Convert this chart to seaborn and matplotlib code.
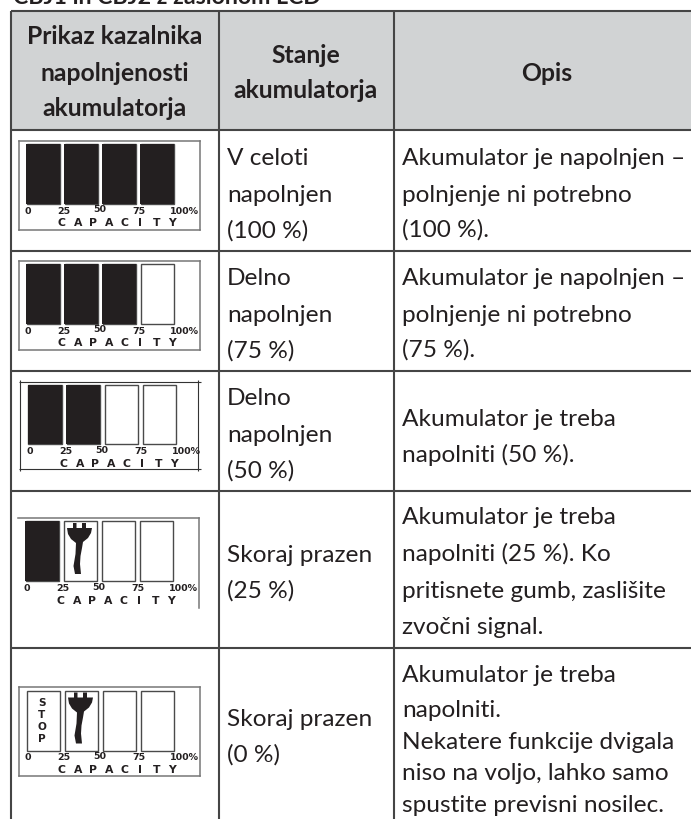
# Tabel kazalnika napolnjenosti akumulatorja

import pandas as pd
import matplotlib.pyplot as plt
import seaborn as sns

# data
header_labels = [["Prikaz kazalnika", "napolnjenosti", "akumulatorja"],
                 ["Stanje", "akumulatorja"],
                 ["Opis"]]
page_title = "CBJ1 in CBJ2 z zaslonom LCD"
status_labels = [["V celoti", "napolnjen", "(100 %)"],
                 ["Delno", "napolnjen", "(75 %)"],
                 ["Delno", "napolnjen", "(50 %)"],
                 ["Skoraj prazen", "(25 %)"],
                 ["Skoraj prazen", "(0 %)"]]
desc_labels = [["Akumulator je napolnjen –", "polnjenje ni potrebno", "(100 %)."],
               ["Akumulator je napolnjen –", "polnjenje ni potrebno", "(75 %)."],
               ["Akumulator je treba", "napolniti (50 %)."],
               ["Akumulator je treba", "napolniti (25 %). Ko", "pritisnete gumb, zaslišite", "zvočni signal."],
               ["Akumulator je treba", "napolniti.", "Nekatere funkcije dvigala", "niso na voljo, lahko samo", "spustite previsni nosilec."]]
segments = ["0-25", "25-50", "50-75", "75-100"]
fill_levels = [[1, 1, 1, 1],
               [1, 1, 1, 0],
               [1, 1, 0, 0],
               [1, 0, 0, 0],
               [0, 0, 0, 0]]
scale_labels = ["0", "25", "50", "75", "100%"]
capacity_letters = list("CAPACITY")
stop_letters = list("STOP")

DARK = "#231f20"
LINE = "#454545"
GREY = "#d1d3d4"
W, H = 691, 819

sns.set_theme(style="white")
plt.rcParams['font.family'] = ['Lato', 'DejaVu Sans']

fig = plt.figure(figsize=(W / 100, H / 100), dpi=100)
ax = fig.add_axes([0, 0, 1, 1])
ax.set_xlim(0, W)
ax.set_ylim(H, 0)
ax.axis("off")
ax.set_zorder(5)

# kerangka tabel
ax.fill_between([12, W], 11, 130, color=GREY, lw=0)
ax.hlines([11, 130, 251, 371, 491, 648], 11, W, color=LINE, lw=1.5)
ax.vlines([11.5, 219, 394], 11, H, color=LINE, lw=1.5)

ax.text(13, 3.5, page_title, fontsize=16.7, fontweight="bold", color=DARK, va="baseline")

# header
head_x = [115, 306, 547]
head_y = [[44, 81, 116], [63, 98], [81]]
for x, lines, ys in zip(head_x, header_labels, head_y):
    for line, y in zip(lines, ys):
        ax.text(x, y, line, fontsize=17.8, fontweight="bold", color=DARK, ha="center", va="baseline")

# teks baris
status_y = [[165, 202, 238], [285, 322, 358], [405, 442, 478], [562, 598], [726, 762]]
desc_y = [[165, 202, 237], [285, 322, 357], [426, 462], [524, 561, 598, 634], [682, 717, 749, 780, 812]]
for lines, ys in zip(status_labels, status_y):
    for line, y in zip(lines, ys):
        ax.text(227, y, line, fontsize=17.6, color=DARK, va="baseline")
for lines, ys in zip(desc_labels, desc_y):
    for line, y in zip(lines, ys):
        ax.text(402, y, line, fontsize=17.6, color=DARK, va="baseline")

# posisi gauge: kiri bar pertama, atas bar, bawah frame
gauge_pos = [(26, 144, 230), (26, 264, 350), (28, 384.5, 469), (25, 521, 608), (26, 690.5, 776)]
label_dx = [-15, 21, 57, 96, 141]
BAR_H = 60
PITCH = 38


def draw_plug(x0, y0):
    # ikon steker, koordinat piksel relatif
    head = [(-1, 0), (5, 0), (5, -5), (8.5, -5), (8.5, 0), (14, 0), (14, -5), (18, -5), (18, 0),
            (24, 0), (23, 5), (20, 10), (15, 14), (14, 20), (12.5, 28), (12, 36), (13, 46),
            (7, 46), (5.5, 38), (7.5, 26), (8, 15), (3, 11), (0, 6)]
    ax.fill([x0 + p[0] for p in head], [y0 + p[1] for p in head], color=DARK, lw=0, zorder=5)


for i, (x0, top, bottom) in enumerate(gauge_pos):
    frame_l, frame_r = x0 - 7.5, x0 + 174
    if i == 2:
        frame_l, frame_r = x0 - 7.5, x0 + 170.5
    top_f = top - 3.5 if i != 2 else top - 2.5
    gauge = fig.add_axes([frame_l / W, 1 - bottom / H, (frame_r - frame_l) / W, (bottom - top_f) / H])
    df = pd.DataFrame({"segment": segments, "full": [1, 1, 1, 1], "level": fill_levels[i]})
    sns.barplot(data=df, x="segment", y="full", order=segments, color="white",
                edgecolor="#4a4a4a", linewidth=1.0, width=33 / PITCH, saturation=1, ax=gauge)
    sns.barplot(data=df, x="segment", y="level", order=segments, color=DARK,
                linewidth=0, width=34 / PITCH, saturation=1, ax=gauge)
    cx0 = x0 + 17
    gauge.set_xlim((frame_l - cx0) / PITCH, (frame_r - cx0) / PITCH)
    gauge.set_ylim(-(bottom - top - BAR_H) / BAR_H, (top - top_f + BAR_H) / BAR_H)
    gauge.set_xticks([])
    gauge.set_yticks([])
    gauge.set_xlabel("")
    gauge.set_ylabel("")
    for name, sp in gauge.spines.items():
        sp.set_color("#777777")
        sp.set_linewidth(1.1)
    if i == 2:
        # baris 50 % punya garis potong sendiri
        for sp in gauge.spines.values():
            sp.set_visible(False)
    if i == 3:
        gauge.spines["left"].set_visible(False)
        gauge.spines["bottom"].set_visible(False)

    # skala
    base = top + BAR_H + 10
    for lab, dx, lift in zip(scale_labels, label_dx, [0, 0, 1.5, 0, 0]):
        ax.text(x0 + 17 + dx, base - lift, lab, fontsize=6.8, fontweight="bold", family="DejaVu Sans",
                color=DARK, ha="center", va="baseline", zorder=6)
    for k, letter in enumerate(capacity_letters):
        ax.text(x0 + 36 + k * 15.7, base + 12.5, letter, fontsize=7.8, fontweight="bold", family="DejaVu Sans",
                color=DARK, ha="center", va="baseline", zorder=6)

# tanda potong baris 50 %
ax.hlines([382, 469], 19, 201, color="#333333", lw=0.8)
ax.vlines([20.5, 198.5], 380, 471, color="#333333", lw=0.8)

draw_plug(68, 528)
draw_plug(69, 697.5)

for letter, y in zip(stop_letters, [705.5, 717.5, 729.5, 741.5]):
    ax.text(42, y, letter, fontsize=7.6, fontweight="bold", family="DejaVu Sans", color=DARK,
            ha="center", va="baseline", zorder=6)

fig.savefig("out.png", dpi=100)
